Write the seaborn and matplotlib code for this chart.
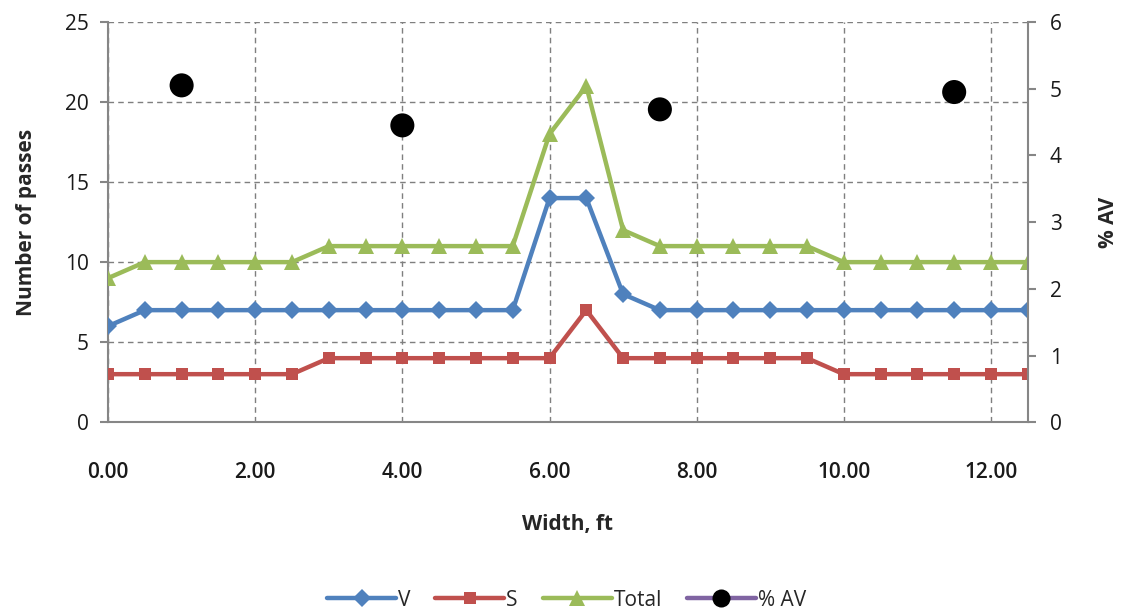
import numpy as np
import pandas as pd
import matplotlib
matplotlib.use("Agg")
import matplotlib.pyplot as plt
import seaborn as sns
from matplotlib.lines import Line2D
from matplotlib.ticker import FormatStrFormatter, MultipleLocator

width_ft = [0.0, 0.5, 1.0, 1.5, 2.0, 2.5, 3.0, 3.5, 4.0, 4.5, 5.0, 5.5, 6.0,
            6.5, 7.0, 7.5, 8.0, 8.5, 9.0, 9.5, 10.0, 10.5, 11.0, 11.5, 12.0, 12.5]
v_passes = [6, 7, 7, 7, 7, 7, 7, 7, 7, 7, 7, 7, 14, 14, 8, 7, 7, 7, 7, 7, 7, 7, 7, 7, 7, 7]
s_passes = [3, 3, 3, 3, 3, 3, 4, 4, 4, 4, 4, 4, 4, 7, 4, 4, 4, 4, 4, 4, 3, 3, 3, 3, 3, 3]
total_passes = [9, 10, 10, 10, 10, 10, 11, 11, 11, 11, 11, 11, 18, 21, 12, 11, 11, 11, 11, 11,
                10, 10, 10, 10, 10, 10]
av_width = [1.0, 4.0, 7.5, 11.5]
av_pct = [5.05, 4.45, 4.69, 4.95]

sns.set_style("white")
plt.rcParams['font.family'] = ['Open Sans', 'DejaVu Sans']

c_v = "#4F81BD"
c_s = "#C0504D"
c_t = "#9BBB59"
c_av = "#8064A2"

fig = plt.figure(figsize=(11.22, 6.11), dpi=100)
ax = fig.add_axes([0.0963, 0.309, 0.8197, 0.655])

df = pd.DataFrame({"w": width_ft, "V": v_passes, "S": s_passes, "Total": total_passes})
sns.lineplot(data=df, x="w", y="V", ax=ax, color=c_v, lw=3.2, marker="D", ms=9,
             markeredgewidth=0, zorder=4)
sns.lineplot(data=df, x="w", y="S", ax=ax, color=c_s, lw=3.2, marker="s", ms=8,
             markeredgewidth=0, zorder=4)
sns.lineplot(data=df, x="w", y="Total", ax=ax, color=c_t, lw=3.2, marker="^", ms=11,
             markeredgewidth=0, zorder=4)

ax.set_xlim(0, 12.5)
ax.set_ylim(0, 25)
ax.xaxis.set_major_locator(MultipleLocator(2))
ax.xaxis.set_major_formatter(FormatStrFormatter("%.2f"))
ax.yaxis.set_major_locator(MultipleLocator(5))
ax.grid(True, color="#7f7f7f", ls=(0, (4, 3)), lw=1)
for s in ["top", "right"]:
    ax.spines[s].set_visible(False)
for s in ["left", "bottom"]:
    ax.spines[s].set_color("#868686")
    ax.spines[s].set_linewidth(1.5)
ax.tick_params(axis="both", direction="out", length=6, width=1.5, color="#868686",
               labelsize=15, labelcolor="#1a1a1a")
ax.tick_params(axis="y", pad=8)
ax.tick_params(axis="x", pad=23)
for lab in ax.get_xticklabels():
    lab.set_fontweight("semibold")
ax.set_xlabel("Width, ft", fontsize=15, fontweight="bold", labelpad=22)
ax.set_ylabel("Number of passes", fontsize=15, fontweight="bold", labelpad=20)

ax2 = ax.twinx()
sns.scatterplot(x=av_width, y=av_pct, ax=ax2, color="black", s=300, edgecolor="none", zorder=5)
ax2.set_ylim(0, 6)
ax2.yaxis.set_major_locator(MultipleLocator(1))
ax2.grid(False)
for s in ["top", "left", "bottom"]:
    ax2.spines[s].set_visible(False)
ax2.spines["right"].set_color("#868686")
ax2.spines["right"].set_linewidth(1.5)
ax2.tick_params(axis="y", direction="out", length=6, width=1.5, color="#868686",
                labelsize=15, labelcolor="#1a1a1a", pad=10)
ax2.set_ylabel("% AV", fontsize=15, fontweight="bold", labelpad=26)

handles = [
    Line2D([], [], color=c_v, lw=3.2, marker="D", ms=9, markeredgewidth=0),
    Line2D([], [], color=c_s, lw=3.2, marker="s", ms=8, markeredgewidth=0),
    Line2D([], [], color=c_t, lw=3.2, marker="^", ms=11, markeredgewidth=0),
    Line2D([], [], color=c_av, lw=3.2, marker="o", ms=13, markerfacecolor="black",
           markeredgewidth=0),
]
fig.legend(handles, ["V", "S", "Total", "% AV"], loc="center", bbox_to_anchor=(0.505, 0.018),
           ncol=4, frameon=False, fontsize=15, handlelength=3.3, handletextpad=0.1,
           columnspacing=1.2)

fig.savefig("out.png", dpi=100)
